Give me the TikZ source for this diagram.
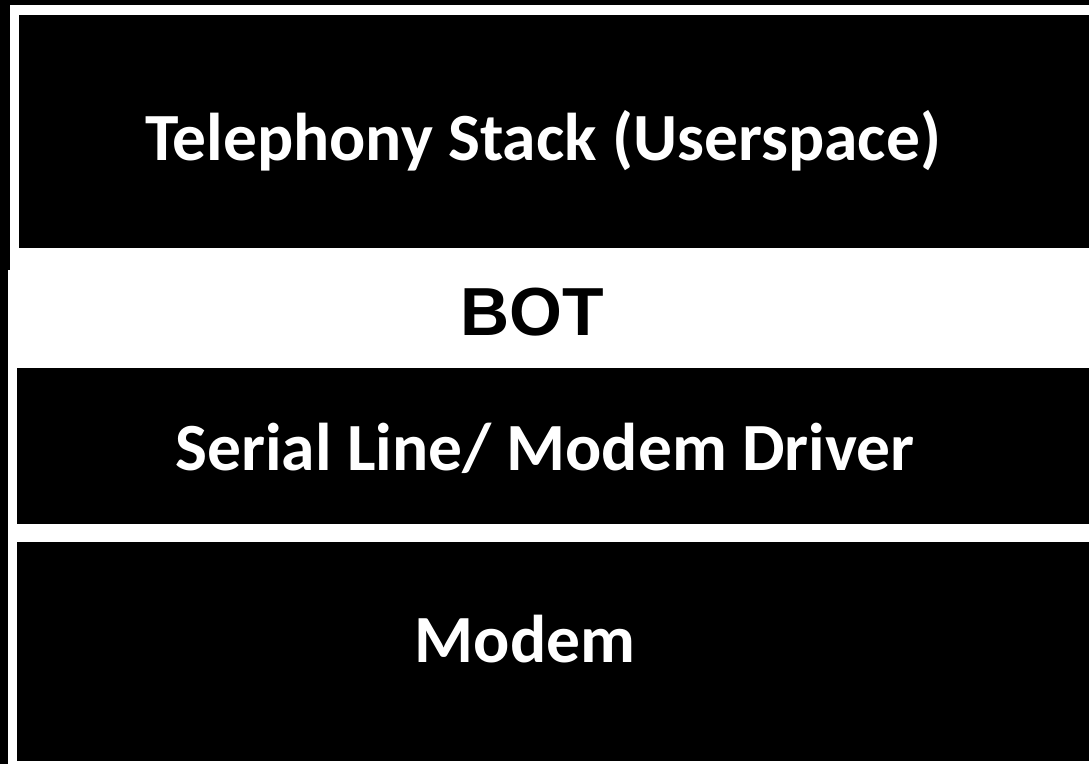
\documentclass[tikz,border=0pt]{standalone}
\usepackage{fontspec}
\setmainfont{Carlito}
\newfontfamily\botfont{Liberation Sans}
\begin{document}
\begin{tikzpicture}[x=1pt,y=-1pt,
  layer/.style={fill=black},
  lbl/.style={anchor=base,inner sep=0pt,text=white,font=\bfseries\fontsize{67.5}{80}\selectfont}]
  % page background
  \fill[black] (0,0) rectangle (1089,764);
  \useasboundingbox (0,0) rectangle (1089,764);
  % white frame behind the layers
  \fill[white] (10,5) -- (1089,5) -- (1089,764) -- (8,764) -- (8,270) -- (10,270) -- cycle;
  % stacked layers
  \fill[layer] (19,15) rectangle (1089,248);
  \fill[layer] (17,368) rectangle (1089,524);
  \fill[layer] (17,542) rectangle (1089,761);
  % labels
  \node[lbl] (stack) at (543,160) {Telephony Stack (Userspace)};
  \node[anchor=base,inner sep=0pt,font=\botfont\bfseries\fontsize{68}{80}\selectfont,text=black] (bot) at (532,335) {BOT};
  \node[lbl] (driver) at (545,470) {Serial Line/ Modem Driver};
  \node[lbl] (modem) at (525,662) {Modem};
\end{tikzpicture}
\end{document}
